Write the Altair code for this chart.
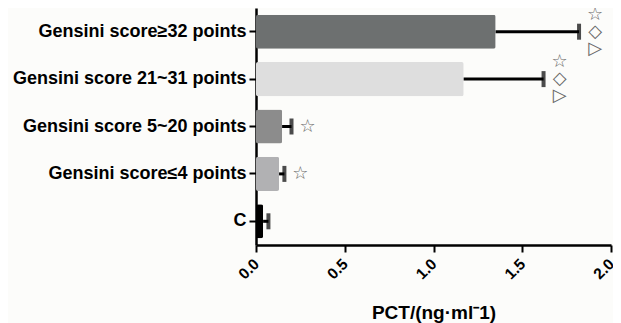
import altair as alt
import pandas as pd

categories = ["Gensini score≥32 points", "Gensini score 21~31 points",
              "Gensini score 5~20 points", "Gensini score≤4 points", "C"]
means = [1.35, 1.17, 0.147, 0.13, 0.04]
errors = [0.47, 0.45, 0.053, 0.03, 0.03]
colors = ["#6d7070", "#dedede", "#8c8c8c", "#b1b1b3", "#000000"]
sym_top = ["☆", "☆", "", "", ""]
sym_mid = ["◇", "◇", "☆", "☆", ""]
sym_bot = ["▷", "▷", "", "", ""]
x_ticks = [0, 0.5, 1.0, 1.5, 2.0]

df = pd.DataFrame({
    "category": categories,
    "mean": means,
    "err": errors,
    "s_top": sym_top,
    "s_mid": sym_mid,
    "s_bot": sym_bot,
})
df["upper"] = df["mean"] + df["err"]

FONT = "Liberation Sans"

y_enc = alt.Y("category:N", sort=categories,
              scale=alt.Scale(domain=categories, paddingInner=0.28, paddingOuter=0.14),
              axis=alt.Axis(title=None, labelFontSize=18, labelPadding=3, tickSize=7,
                            tickWidth=2, domainWidth=2.5, labelLimit=0))
x_scale = alt.Scale(domain=[0, 2], nice=False)
x_enc = alt.X("mean:Q", scale=x_scale,
              axis=alt.Axis(values=x_ticks, format=".1f", labelAngle=-45, labelAlign="right",
                            labelBaseline="middle", labelFontSize=15.5, labelPadding=9,
                            tickSize=7, tickWidth=2, domainWidth=2.5, grid=False,
                            title="PCT/(ng·ml⁻1)", titleFontSize=19, titlePadding=21))

base = alt.Chart(df)

bars = base.mark_bar(cornerRadius=2).encode(
    x=x_enc, y=y_enc,
    color=alt.Color("category:N", scale=alt.Scale(domain=categories, range=colors), legend=None),
)
rules = base.mark_rule(strokeWidth=3, color="black").encode(
    x=alt.X("mean:Q", scale=x_scale), x2="upper:Q", y=alt.Y("category:N", sort=categories))
caps = base.mark_tick(orient="vertical", size=16, thickness=4, color="black").encode(
    x=alt.X("upper:Q", scale=x_scale), y=alt.Y("category:N", sort=categories))

def sym_layer(field, dy):
    return base.mark_text(dx=16, dy=dy, fontSize=18, color="#666666", font="DejaVu Sans",
                          align="center", baseline="middle").encode(
        x=alt.X("upper:Q", scale=x_scale), y=alt.Y("category:N", sort=categories),
        text=f"{field}:N")

chart = alt.layer(bars, rules, caps, sym_layer("s_top", -17), sym_layer("s_mid", 0),
                  sym_layer("s_bot", 17)).properties(
    width=355, height=237,
    autosize=alt.AutoSizeParams(type="none"),
    padding={"left": 248, "top": 0, "right": 2, "bottom": 78},
    background="#fcfcfa",
).configure_view(stroke=None).configure_axis(
    labelFont=FONT, labelFontWeight="bold", labelColor="black",
    titleFont=FONT, titleFontWeight="bold", titleColor="black",
    domainColor="black", tickColor="black",
)

chart.save("out.html", embed_options={"renderer": "svg", "actions": False})
